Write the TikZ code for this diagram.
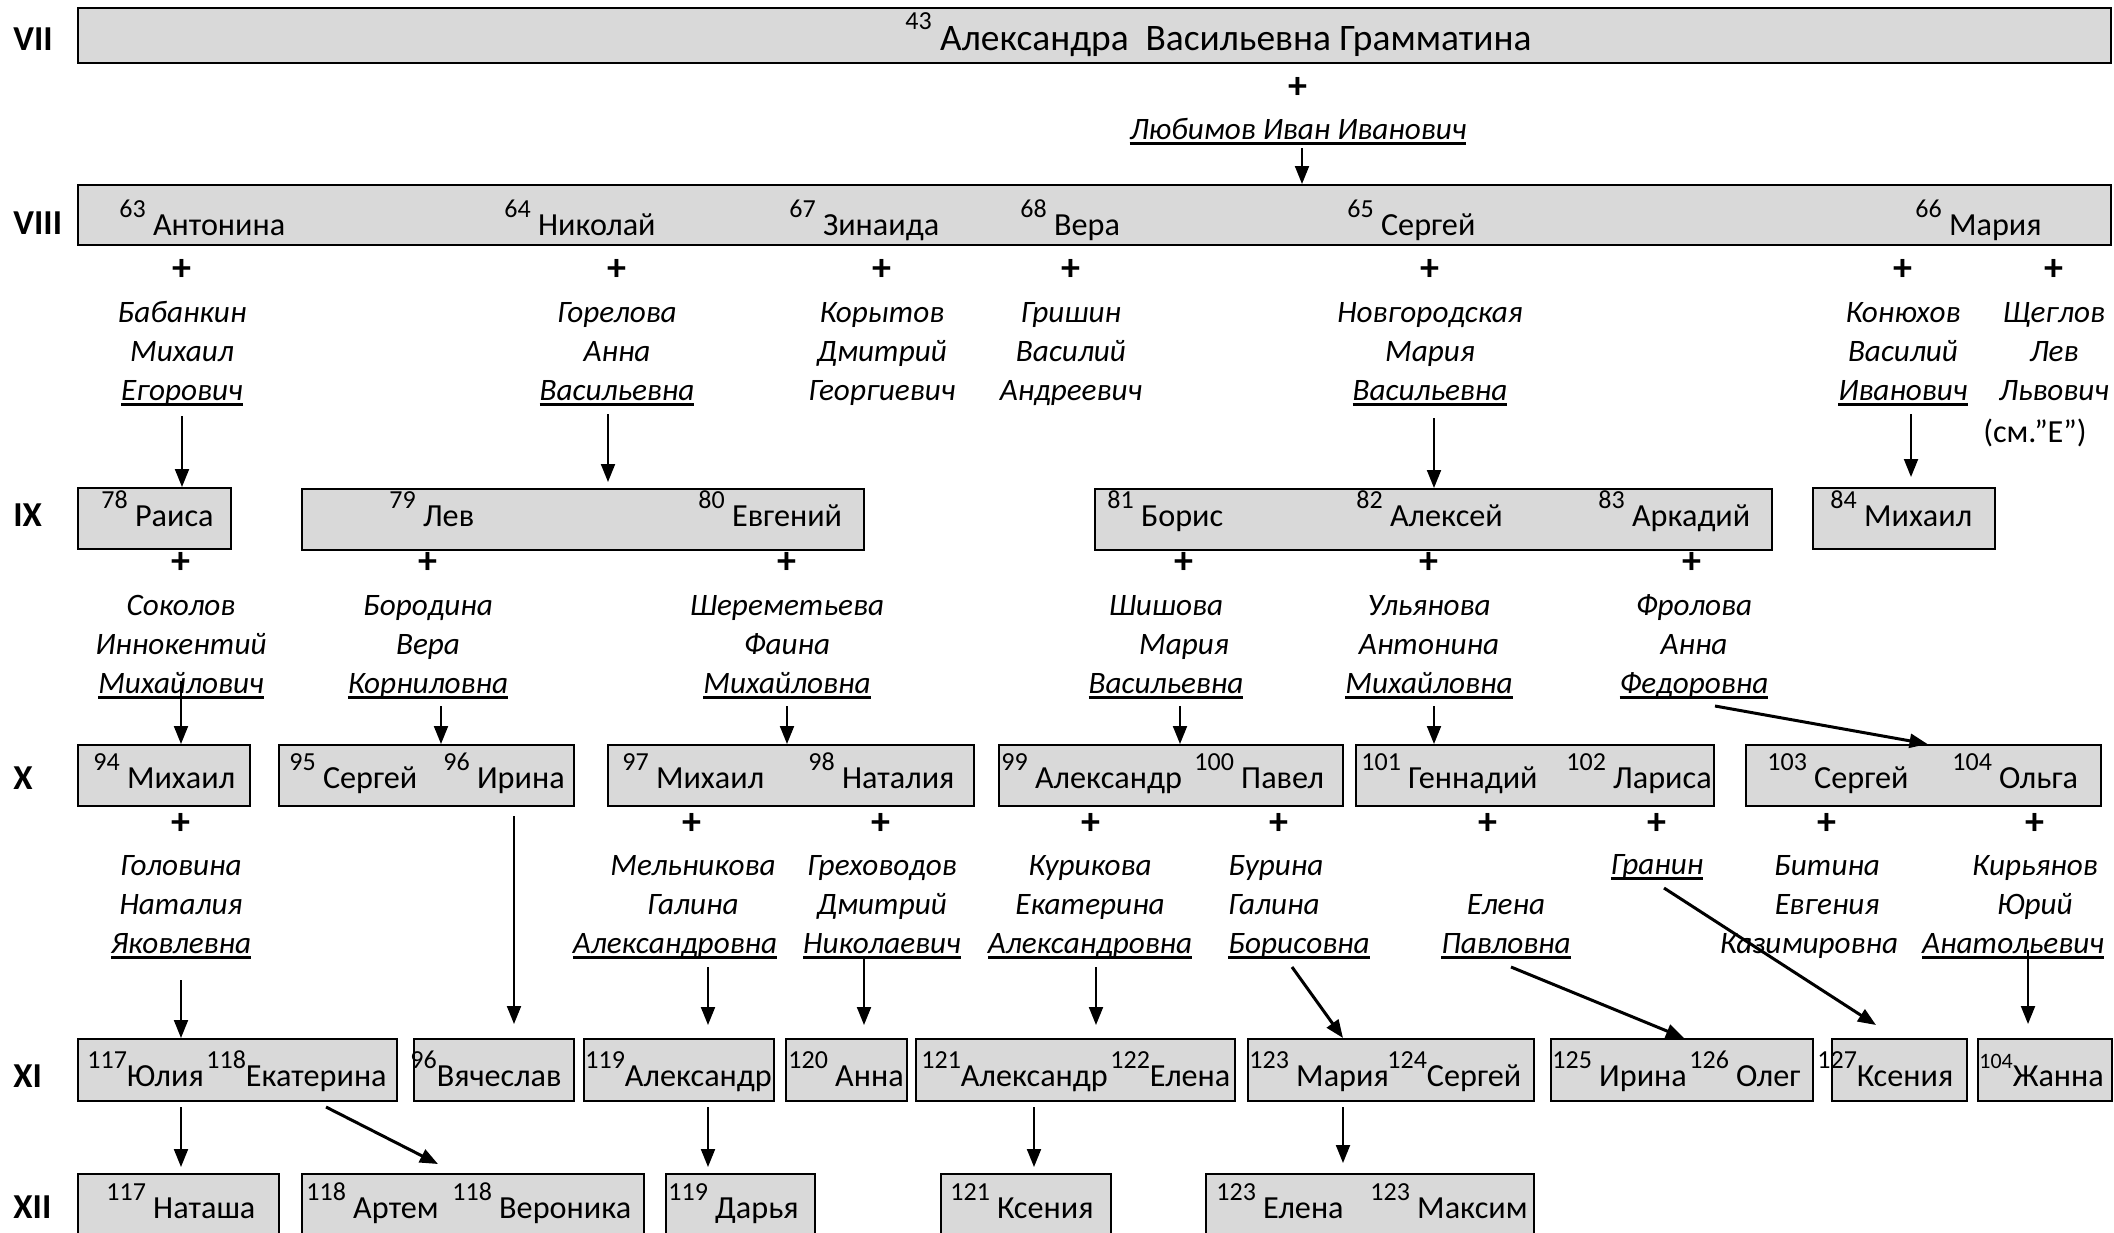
\documentclass[tikz,border=0pt]{standalone}
\usepackage{fontspec}
\setmainfont{Carlito}
\usetikzlibrary{arrows.meta,fit}

\definecolor{boxgray}{RGB}{217,217,217}
\newcommand{\numfont}{\fontsize{13}{15}\selectfont}
\newcommand{\namefont}{\fontsize{16.1}{19.3}\selectfont}
\newcommand{\topfont}{\fontsize{18.7}{22.4}\selectfont}
\newcommand{\spfont}{\fontsize{15.6}{19.5}\selectfont\itshape}
\newcommand{\gnum}[2][8.6pt]{\raisebox{#1}{\numfont #2}}
\newcommand{\ulname}[1]{\setbox0=\hbox{#1}\rlap{\rule[-3pt]{\wd0}{1.4pt}}\box0}

\tikzset{
  famrow/.style={draw, line width=1pt, fill=boxgray, inner sep=0pt},
  person/.style={anchor=base west, inner sep=0pt, font=\namefont},
  spouse/.style={anchor=base, inner sep=0pt, align=center, font=\spfont},
  plus/.style={inner sep=0pt, font=\fontsize{19}{19}\selectfont\bfseries},
  gen/.style={anchor=base west, inner sep=0pt, font=\fontsize{17.5}{17.5}\selectfont\bfseries},
  arr/.style={line width=1pt, -{Triangle[length=9pt,width=7pt]}},
  diag/.style={line width=1.5pt, -{Triangle[length=9pt,width=7pt]}}
}

\begin{document}
\begin{tikzpicture}[x=0.5pt,y=-0.5pt]
\useasboundingbox (0,0) rectangle (2114,1232);
\clip (0,0) rectangle (2114,1232);

% Generations
\node[gen] (gVII) at (13,50) {VII};
\node[gen] (gVIII) at (13,234) {VIII};
\node[gen] (gIX) at (13,526) {IX};
\node[gen] (gX) at (13,789) {X};
\node[gen] (gXI) at (13,1087) {XI};
\node[gen] (gXII) at (13,1218) {XII};

% Rows
\node[famrow, fit={(78,8) (2111,63)}] (b7) {};
\node[famrow, fit={(78,185) (2111,245)}] (b8) {};
\node[famrow, fit={(78,488) (231,549)}] (b9a) {};
\node[famrow, fit={(302,489) (864,550)}] (b9b) {};
\node[famrow, fit={(1095,489) (1772,550)}] (b9c) {};
\node[famrow, fit={(1813,488) (1995,549)}] (b9d) {};
\node[famrow, fit={(78,745) (250,806)}] (b10a) {};
\node[famrow, fit={(279,745) (574,806)}] (b10b) {};
\node[famrow, fit={(608,745) (974,806)}] (b10c) {};
\node[famrow, fit={(999,745) (1343,806)}] (b10d) {};
\node[famrow, fit={(1356,745) (1714,806)}] (b10e) {};
\node[famrow, fit={(1746,745) (2101,806)}] (b10f) {};
\node[famrow, fit={(78,1039) (397,1101)}] (b11a) {};
\node[famrow, fit={(414,1039) (574,1101)}] (b11b) {};
\node[famrow, fit={(584,1039) (774,1101)}] (b11c) {};
\node[famrow, fit={(786,1039) (907,1101)}] (b11d) {};
\node[famrow, fit={(916,1039) (1235,1101)}] (b11e) {};
\node[famrow, fit={(1248,1039) (1534,1101)}] (b11f) {};
\node[famrow, fit={(1551,1039) (1813,1101)}] (b11g) {};
\node[famrow, fit={(1832,1039) (1967,1101)}] (b11h) {};
\node[famrow, fit={(1978,1039) (2112,1101)}] (b11i) {};
\node[famrow, fit={(78,1174) (279,1245)}] (b12a) {};
\node[famrow, fit={(302,1174) (644,1245)}] (b12b) {};
\node[famrow, fit={(666,1174) (815,1245)}] (b12c) {};
\node[famrow, fit={(941,1174) (1111,1245)}] (b12d) {};
\node[famrow, fit={(1206,1174) (1534,1245)}] (b12e) {};

% Persons
\node[person, font=\topfont] (g7n43) at (905,50) {\gnum[10.5pt]{43} Александра\ \ Васильевна Грамматина};
\node[person] (g8n63) at (119,235) {\gnum{63} Антонина};
\node[person] (g8n64) at (504,235) {\gnum{64} Николай};
\node[person] (g8n67) at (789,235) {\gnum{67} Зинаида};
\node[person] (g8n68) at (1020,235) {\gnum{68} Вера};
\node[person] (g8n65) at (1347,235) {\gnum{65} Сергей};
\node[person] (g8n66) at (1915,235) {\gnum{66} Мария};
\node[person] (g9n78) at (101,526) {\gnum{78} Раиса};
\node[person] (g9n79) at (389,526) {\gnum{79} Лев};
\node[person] (g9n80) at (698,526) {\gnum{80} Евгений};
\node[person] (g9n81) at (1107,526) {\gnum{81} Борис};
\node[person] (g9n82) at (1356,526) {\gnum{82} Алексей};
\node[person] (g9n83) at (1598,526) {\gnum{83} Аркадий};
\node[person] (g9n84) at (1830,526) {\gnum{84} Михаил};
\node[person] (g10n94) at (93,788) {\gnum{94} Михаил};
\node[person] (g10n95) at (289,788) {\gnum{95} Сергей};
\node[person] (g10n96) at (443,788) {\gnum{96} Ирина};
\node[person] (g10n97) at (622,788) {\gnum{97} Михаил};
\node[person] (g10n98) at (808,788) {\gnum{98} Наталия};
\node[person] (g10n99) at (1001,788) {\gnum{99} Александр};
\node[person] (g10n100) at (1194,788) {\gnum{100} Павел};
\node[person] (g10n101) at (1361,788) {\gnum{101} Геннадий};
\node[person] (g10n102) at (1566,788) {\gnum{102} Лариса};
\node[person] (g10n103) at (1767,788) {\gnum{103} Сергей};
\node[person] (g10n104) at (1952,788) {\gnum{104} Ольга};
\node[person] (g11n117) at (87,1086) {\gnum{117}Юлия};
\node[person] (g11n118) at (206,1086) {\gnum{118}Екатерина};
\node[person] (g11n96) at (410,1086) {\gnum{96}Вячеслав};
\node[person] (g11n119) at (585,1086) {\gnum{119}Александр};
\node[person] (g11n120) at (788,1086) {\gnum{120} Анна};
\node[person] (g11n121) at (921,1086) {\gnum{121}Александр};
\node[person] (g11n122) at (1110,1086) {\gnum{122}Елена};
\node[person] (g11n123) at (1249,1086) {\gnum{123} Мария};
\node[person] (g11n124) at (1387,1086) {\gnum{124}Сергей};
\node[person] (g11n125) at (1552,1086) {\gnum{125} Ирина};
\node[person] (g11n126) at (1689,1086) {\gnum{126} Олег};
\node[person] (g11n127) at (1817,1086) {\gnum{127}Ксения};
\node[person] (g11n104) at (1979,1086) {\gnum{\fontsize{11}{12}\selectfont 104}Жанна};
\node[person] (g12n117) at (106,1218) {\gnum{117} Наташа};
\node[person] (g12n118a) at (306,1218) {\gnum{118} Артем};
\node[person] (g12n118b) at (452,1218) {\gnum{118} Вероника};
\node[person] (g12n119) at (668,1218) {\gnum{119} Дарья};
\node[person] (g12n121) at (950,1218) {\gnum{121} Ксения};
\node[person] (g12n123a) at (1216,1218) {\gnum{123} Елена};
\node[person] (g12n123b) at (1370,1218) {\gnum{123} Максим};

% Marriages
\node[plus] (pl43) at (1298,88) {+};
\node[plus] (pl63) at (182,270) {+};
\node[plus] (pl64) at (617,270) {+};
\node[plus] (pl67) at (882,270) {+};
\node[plus] (pl68) at (1071,270) {+};
\node[plus] (pl65) at (1430,270) {+};
\node[plus] (pl66a) at (1903,270) {+};
\node[plus] (pl66b) at (2054,270) {+};
\node[plus] (pl78) at (181,563) {+};
\node[plus] (pl79) at (428,563) {+};
\node[plus] (pl80) at (787,563) {+};
\node[plus] (pl81) at (1184,563) {+};
\node[plus] (pl82) at (1429,563) {+};
\node[plus] (pl83) at (1692,563) {+};
\node[plus] (pl94) at (181,824) {+};
\node[plus] (pl97) at (692,824) {+};
\node[plus] (pl98) at (881,824) {+};
\node[plus] (pl99) at (1091,824) {+};
\node[plus] (pl100) at (1279,824) {+};
\node[plus] (pl101) at (1488,824) {+};
\node[plus] (pl102) at (1657,824) {+};
\node[plus] (pl103) at (1827,824) {+};
\node[plus] (pl104) at (2035,824) {+};

% Spouses
\node[spouse] (sp43) at (1298,139) {\ulname{Любимов Иван Иванович}};
\node[spouse] (sp63) at (182,400) {Бабанкин\\Михаил\\\ulname{Егорович}};
\node[spouse] (sp64) at (617,400) {Горелова\\Анна\\\ulname{Васильевна}};
\node[spouse] (sp67) at (882,400) {Корытов\\Дмитрий\\Георгиевич};
\node[spouse] (sp68) at (1071,400) {Гришин\\Василий\\Андреевич};
\node[spouse] (sp65) at (1430,400) {Новгородская\\Мария\\\ulname{Васильевна}};
\node[spouse] (sp66a) at (1903,400) {Конюхов\\Василий\\\ulname{Иванович}};
\node[spouse] (sp66b) at (2054,400) {Щеглов\\Лев\\Львович};
\node[spouse, font=\namefont] (sp66note) at (2035,442) {(см.”Е”)};
\node[spouse] (sp78) at (181,693) {Соколов\\Иннокентий\\\ulname{Михайлович}};
\node[spouse] (sp79) at (428,693) {Бородина\\Вера\\\ulname{Корниловна}};
\node[spouse] (sp80) at (787,693) {Шереметьева\\Фаина\\\ulname{Михайловна}};
\node[spouse] (sp81) at (1166,693) {Шишова\\\hspace*{18pt}Мария\\\ulname{Васильевна}};
\node[spouse] (sp82) at (1429,693) {Ульянова\\Антонина\\\ulname{Михайловна}};
\node[spouse] (sp83) at (1694,693) {Фролова\\Анна\\\ulname{Федоровна}};
\node[spouse] (sp94) at (181,953) {Головина\\Наталия\\\ulname{Яковлевна}};
\node[spouse] (sp97) at (693,953) {Мельникова\\Галина\\\ulname{Александровна}\hspace*{18pt}};
\node[spouse] (sp98) at (882,953) {Греховодов\\Дмитрий\\\ulname{Николаевич}};
\node[spouse] (sp99) at (1090,953) {Курикова\\Екатерина\\\ulname{Александровна}};
\node[spouse, anchor=base west, align=left] (sp100) at (1228,953) {Бурина\\Галина\\\ulname{Борисовна}};
\node[spouse] (sp101) at (1506,953) {Елена\\\ulname{Павловна}};
\node[spouse] (sp102) at (1657,874) {\ulname{Гранин}};
\node[spouse] (sp103) at (1827,953) {Битина\\Евгения\\Казимировна\hspace*{18pt}};
\node[spouse] (sp104) at (2035,953) {Кирьянов\\Юрий\\\ulname{Анатольевич}\hspace*{22pt}};

% Descent
\draw[arr] ([xshift=2pt,yshift=-4.5pt]sp43.base) -- ([xshift=2pt]sp43.base |- b8.north);
\draw[arr] ([yshift=-8pt]sp63.base) -- (sp63.base |- b9a.north);
\draw[arr, shorten >=3pt] ([xshift=-4.5pt,yshift=-7pt]sp64.base) -- ([xshift=-4.5pt]sp64.base |- b9b.north);
\draw[arr] ([xshift=2pt,yshift=-9pt]sp65.base) -- ([xshift=2pt]sp65.base |- b9c.north);
\draw[arr, shorten >=5pt] ([xshift=4pt,yshift=-7pt]sp66a.base) -- ([xshift=4pt]sp66a.base |- b9d.north);
\draw[arr] ([yshift=6pt]sp78.base) -- (sp78.base |- b10a.north);
\draw[arr] ([xshift=6.5pt,yshift=-6.5pt]sp79.base) -- ([xshift=6.5pt]sp79.base |- b10b.north);
\draw[arr] ([yshift=-6.5pt]sp80.base) -- (sp80.base |- b10c.north);
\draw[arr] ([xshift=7pt,yshift=-6.5pt]sp81.base) -- ([xshift=7pt]sp81.base |- b10d.north);
\draw[arr] ([xshift=2.5pt,yshift=-6.5pt]sp82.base) -- ([xshift=2.5pt]sp82.base |- b10e.north);
\draw[diag] ([xshift=10.5pt,yshift=-6.5pt]sp83.base) -- ([xshift=2pt]b10f.north);
\draw[arr, shorten >=7pt] ([xshift=10pt,yshift=-4.5pt]b11b.north |- b10b.south) -- ([xshift=10pt]b11b.north);
\draw[arr] ([yshift=-13.5pt]sp94.base) -- (sp94.base |- b11a.north);
\draw[arr, shorten >=6.5pt] ([xshift=7.5pt,yshift=-7pt]sp97.base) -- ([xshift=7.5pt]sp97.base |- b11c.north);
\draw[arr, shorten >=6.5pt] ([xshift=-9pt,yshift=-2pt]sp98.base) -- ([xshift=-9pt]sp98.base |- b11d.north);
\draw[arr, shorten >=6.5pt] ([xshift=3pt,yshift=-7pt]sp99.base) -- ([xshift=3pt]sp99.base |- b11e.north);
\draw[diag] ([xshift=32pt,yshift=-7pt]sp100.base west) -- ([xshift=-24pt]b11f.north);
\draw[diag] ([xshift=2.5pt,yshift=-7pt]sp101.base) -- ([xshift=1pt]b11g.north);
\draw[diag] ([xshift=3.5pt,yshift=-7pt]sp102.base) -- ([xshift=-11.75pt,yshift=6.5pt]b11h.north);
\draw[arr, shorten >=7pt] ([xshift=-3.5pt,yshift=1.5pt]sp104.base) -- ([xshift=-3.5pt]sp104.base |- b11i.north);
\draw[arr, shorten >=3pt] ([xshift=-28.25pt,yshift=-2.5pt]b11a.south) -- ([xshift=-28.25pt]b11a.south |- b12a.north);
\draw[diag] ([xshift=44.25pt,yshift=-2.5pt]b11a.south) -- ([xshift=-17.5pt,yshift=4.5pt]b12b.north);
\draw[arr, shorten >=3pt] ([xshift=14.5pt,yshift=-2.5pt]b11c.south) -- ([xshift=14.5pt]b11c.south |- b12c.north);
\draw[arr, shorten >=3pt] ([xshift=-20.75pt,yshift=-2.5pt]b11e.south) -- ([xshift=-20.75pt]b11e.south |- b12d.north);
\draw[arr, shorten >=5pt] ([xshift=-24pt,yshift=-2.5pt]b11f.south) -- ([xshift=-24pt]b11f.south |- b12e.north);
\end{tikzpicture}
\end{document}
